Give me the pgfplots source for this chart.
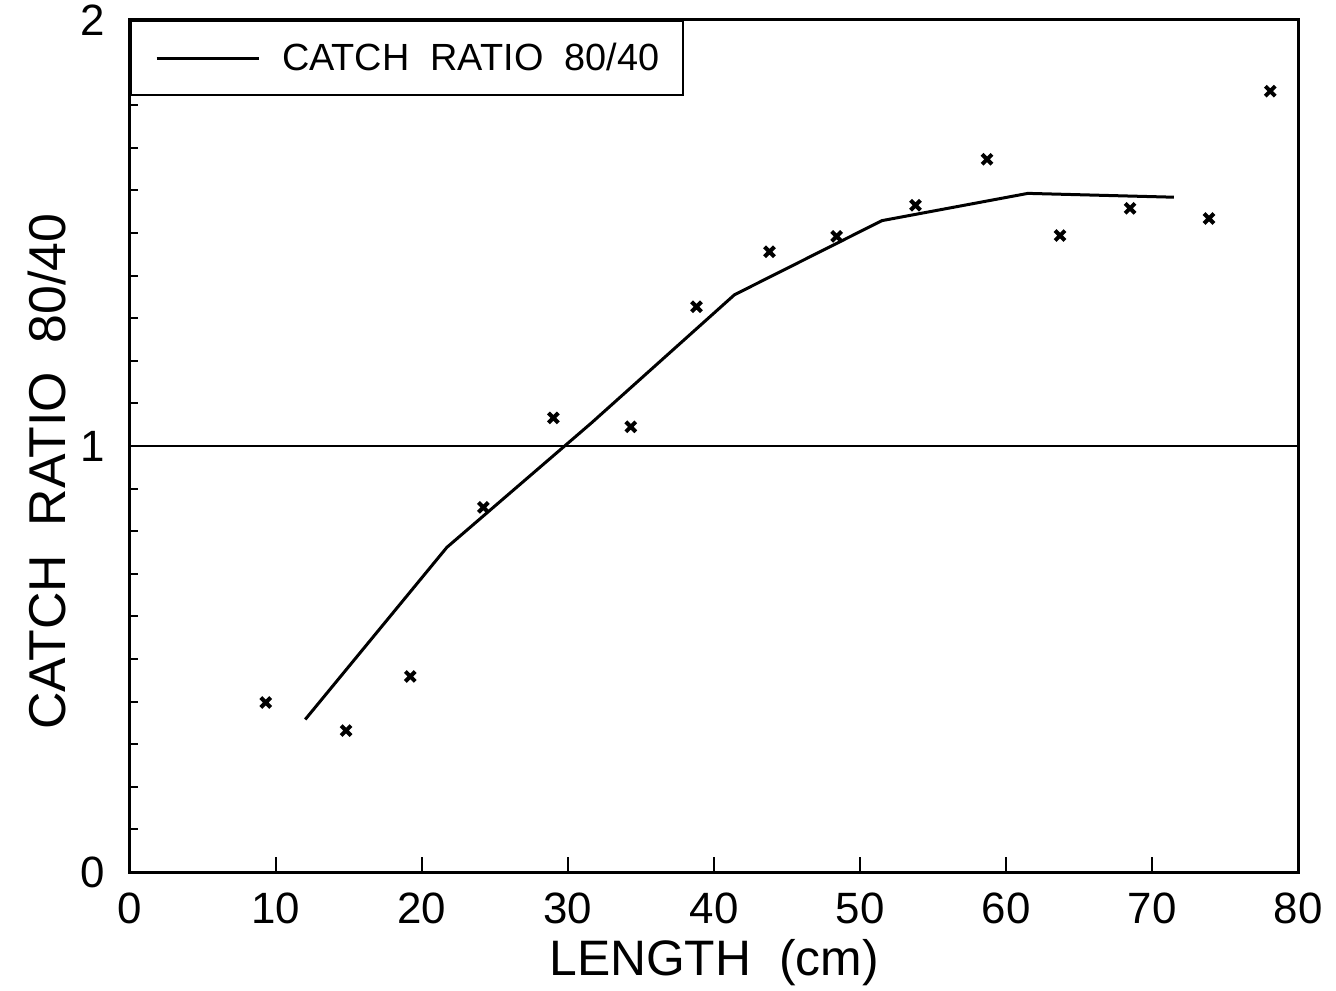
\documentclass[border=0pt]{standalone}
\usepackage{fontspec}
\setmainfont{Liberation Sans}
\usepackage{pgfplots}
\pgfplotsset{compat=1.18}
\begin{document}
\begin{tikzpicture}
\begin{axis}[
  name=ax,
  scale only axis, width=584bp, height=426bp,
  xmin=0, xmax=80, ymin=0, ymax=2,
  xtick={0,10,...,80}, ytick={0,1,2},
  minor y tick num=9,
  xtick pos=left, ytick pos=left,
  tick align=inside,
  major tick length=7.5bp, minor tick length=4bp,
  every tick/.style={black, line width=1bp},
  axis line style={line width=1.5bp},
  /pgf/number format/assume math mode=true,
  tick label style={font=\fontsize{22}{22}\selectfont},
  xticklabel style={yshift=-7bp},
  yticklabel style={xshift=-9bp},
  xlabel={LENGTH\ \ (cm)},
  ylabel={CATCH\ \ RATIO\ \ 80/40},
  xlabel style={font=\fontsize{25}{25}\selectfont, at={(axis description cs:0.5,-0.121)}, anchor=base},
  ylabel style={font=\fontsize{26}{26}\selectfont, at={(axis description cs:-0.055,0.47)}, anchor=base},
  legend style={at={(0,1)}, anchor=north west, draw=black, line width=1bp,
    inner xsep=12bp, inner ysep=11bp, font=\fontsize{19}{19}\selectfont,
    nodes={inner sep=0pt}, cells={anchor=west}},
  legend image code/.code={\draw[line width=1.5bp] (0bp,0bp) -- (51bp,0bp); \path (62bp,0bp);},
]
\addplot[black, line width=1bp, forget plot] coordinates {(0,1) (80,1)};
\addplot[black, line width=1.5bp] coordinates {
(12.0,0.358) (21.7,0.762) (31.6,1.054) (41.4,1.355) (51.5,1.529) (61.5,1.593) (71.5,1.584)
};
\addlegendentry{CATCH\ \ RATIO\ \ 80/40}
\addplot[only marks, mark=x, mark size=3.5bp, mark options={line width=2bp}, black, forget plot] coordinates {
(9.3,0.398) (14.8,0.332) (19.2,0.459) (24.2,0.856) (29.0,1.066) (34.3,1.045)
(38.8,1.327) (43.8,1.456) (48.4,1.492) (53.8,1.565) (58.7,1.673) (63.7,1.494)
(68.5,1.558) (73.9,1.534) (78.1,1.833)
};
\end{axis}
\pgfresetboundingbox
\path[use as bounding box] ([shift={(-65bp,-59bp)}]ax.south west) rectangle ([shift={(19bp,10bp)}]ax.north east);
\end{tikzpicture}
\end{document}
